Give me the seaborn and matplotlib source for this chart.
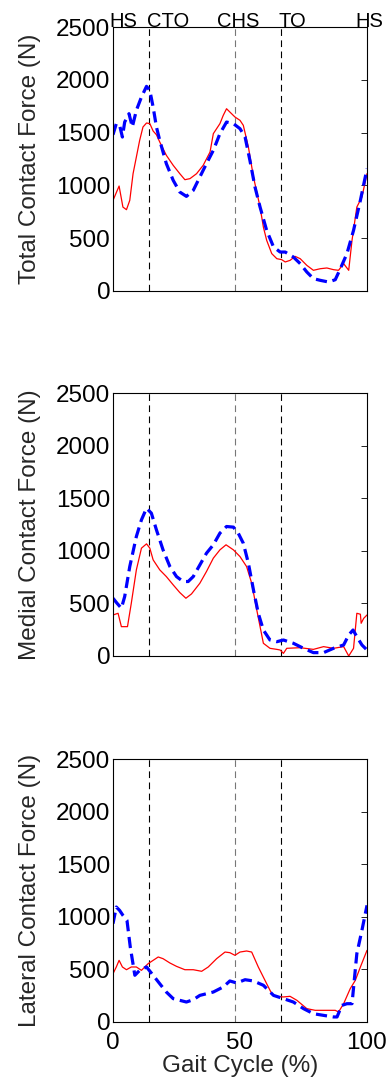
import numpy as np
import pandas as pd
import matplotlib
matplotlib.use("Agg")
import matplotlib.pyplot as plt
import seaborn as sns

# ---------------- data ----------------
tot_red_x = [0, 2.4, 3.9, 5.3, 6.6, 7.9, 9.2, 10.5, 11.8, 13.2, 14.5, 15.8, 17.1, 18.4, 21, 23.7, 26.3, 28.3,
             30.3, 32.9, 35.5, 38.2, 39.5, 42.1, 43.4, 44.7, 46, 48, 50, 51.3, 53.3, 55.3, 57.9, 59.2, 60.5,
             62.5, 64.5, 66.4, 67.8, 69.7, 71.7, 73.7, 76.3, 78.9, 81.6, 84.2, 86.8, 88.8, 90.8, 92.8, 94.1,
             96, 98, 100]
tot_red_y = [858, 994, 795, 770, 858, 1111, 1269, 1427, 1553, 1591, 1585, 1515, 1480, 1411, 1285, 1190, 1111, 1054,
             1064, 1111, 1190, 1316, 1490, 1585, 1663, 1726, 1695, 1648, 1616, 1569, 1364, 1080, 795, 606, 480,
             354, 306, 297, 275, 290, 328, 306, 243, 196, 211, 218, 202, 196, 259, 196, 480,
             795, 890, 1111]
tot_blue_x = [0, 1.3, 2.6, 3.7, 4.6, 6.3, 7.6, 9.2, 11.2, 13.2, 14.5, 15.8, 17.1, 18.4, 21, 23.7, 26.3, 28.9,
              31.6, 34.2, 36.8, 39.5, 42.1, 44.7, 47.4, 50, 52, 53.9, 55.9, 57.9, 60.5, 63.2, 65.8, 67.8, 71,
              73.7, 76.3, 78.9, 81.6, 84.9, 87.5, 89.5, 92.1, 94.7, 97.4, 100]
tot_blue_y = [1480, 1585, 1569, 1458, 1600, 1679, 1553, 1711, 1837, 1938, 1900, 1742, 1553, 1427, 1206, 1048, 937, 896,
              953, 1080, 1206, 1332, 1490, 1600, 1585, 1537, 1458, 1237, 985, 795, 574, 417, 369, 369, 322,
              259, 180, 117, 101, 85, 107, 211, 354, 574, 859, 1158]

med_red_x = [0, 2, 3.3, 5.7, 7.2, 9.2, 11.2, 13.2, 14.5, 15.8, 18.4, 21, 23.7, 26.3, 28.7, 30.9, 34.2, 36.8,
             39.5, 42.1, 44.5, 47.4, 50, 52.6, 54.6, 56.6, 59.2, 61.8, 64.5, 65.8, 67.1, 68.4, 73.7, 78.9,
             82.9, 86.8, 90.8, 92.8, 94.7, 96, 97.4, 97.7, 98.7, 100]
med_red_y = [390, 406, 279, 279, 501, 819, 1025, 1066, 1025, 914, 819, 755, 676, 603, 549, 590, 692, 803,
             930, 1009, 1057, 1009, 945, 850, 692, 438, 121, 73, 63, 57, 25, 73, 79, 63,
             89, 73, 89, 0, 73, 406, 397, 311, 358, 390]
med_blue_x = [0, 1.6, 3.3, 4.6, 6.6, 9.2, 11.2, 13.2, 15.1, 17.1, 19.7, 22.4, 25, 27.6, 29.6, 31.6, 34.2,
              36.8, 39.5, 42.1, 44.7, 47.4, 49.3, 51.3, 53.3, 55.3, 57.2, 59.2, 61.8, 64.5, 67.1, 71, 75,
              78.9, 82.9, 86.8, 90.8, 92.8, 94.5, 96, 98, 100]
med_blue_y = [549, 501, 454, 565, 850, 1136, 1294, 1405, 1358, 1199, 1009, 850, 755, 708, 708, 755, 866,
              977, 1057, 1168, 1231, 1225, 1168, 1072, 882, 628, 406, 247, 152, 136, 152, 121, 73,
              32, 32, 73, 105, 200, 247, 184, 105, 57]

lat_red_x = [0, 1.3, 2.4, 3.7, 5.3, 7.2, 9.2, 11.2, 13.8, 15.8, 17.8, 19.7, 22.4, 25, 28.3, 31.6, 34.9, 37.5,
             40.8, 44.1, 46, 48, 50, 52.6, 54.6, 57.2, 60.5, 62.5, 63.8, 67.1, 69.7, 72.4, 76.3, 79.6, 84.2,
             87.5, 88.8, 90.8, 93.4, 95.4, 97.4, 100]
lat_red_y = [459, 523, 586, 523, 497, 523, 523, 491, 554, 586, 618, 602, 561, 529, 497, 497, 482, 523,
             602, 665, 659, 634, 665, 675, 665, 523, 364, 269, 244, 238, 244, 206, 127, 111, 111,
             111, 95, 174, 317, 396, 523, 681]
lat_blue_x = [0, 1.3, 2.6, 3.9, 5.5, 6.8, 8.6, 10.5, 13.2, 15.8, 18.4, 21, 23.7, 26.3, 28.9, 31.6, 34.2,
              39.5, 43.4, 46, 48.7, 52, 55.3, 59.2, 63.2, 67.1, 71, 75, 78.9, 82.9, 86.8, 88.2, 90.1,
              92.1, 94.1, 96, 98, 100]
lat_blue_y = [935, 1093, 1061, 1014, 966, 713, 444, 491, 523, 444, 364, 285, 222, 206, 190, 212, 253,
              285, 333, 390, 371, 402, 390, 349, 253, 222, 190, 127, 79, 63, 48, 48, 158,
              174, 174, 650, 871, 1109]

event_x = [14, 48, 66]
event_labels = ["HS", "CTO", "CHS", "TO", "HS"]
event_label_x = [-1.5, 13.5, 41, 65, 95.5]
ylabels = ["Total Contact Force (N)", "Medial Contact Force (N)", "Lateral Contact Force (N)"]
yticks = [0, 500, 1000, 1500, 2000, 2500]
xticks = [0, 50, 100]

panels = [
    (tot_red_x, tot_red_y, tot_blue_x, tot_blue_y),
    (med_red_x, med_red_y, med_blue_x, med_blue_y),
    (lat_red_x, lat_red_y, lat_blue_x, lat_blue_y),
]

# ---------------- style ----------------
sns.set_theme(style="white")
plt.rcParams['font.family'] = ['Liberation Sans', 'DejaVu Sans']
plt.rcParams['xtick.direction'] = 'in'
plt.rcParams['ytick.direction'] = 'in'

fig = plt.figure(figsize=(3.89, 10.8), dpi=100)
L, W = 113 / 389, 254 / 389
boxes = [(27, 291), (393, 656), (759, 1022)]
FS = 17.5

for i, ((rx, ry, bx, by), (t, b)) in enumerate(zip(panels, boxes)):
    ax = fig.add_axes([L, 1 - b / 1080, W, (b - t) / 1080])
    dr = pd.DataFrame({"x": rx, "y": ry})
    db = pd.DataFrame({"x": bx, "y": by})
    sns.lineplot(data=dr, x="x", y="y", ax=ax, color="#ff0000", linewidth=0.9, sort=False)
    sns.lineplot(data=db, x="x", y="y", ax=ax, color="#0000ff", linewidth=2.3, sort=False,
                 linestyle=(0, (3.5, 1.8)))
    for j, ex in enumerate(event_x):
        c = "#777777" if j == 1 else "black"
        ax.axvline(ex, color=c, linewidth=0.8, linestyle=(0, (6, 4)), zorder=0)
    ax.set_xlim(0, 100)
    ax.set_ylim(0, 2500)
    ax.set_yticks(yticks)
    ax.set_xticks(xticks)
    ax.tick_params(axis='both', which='both', length=4, width=0.6, colors='black',
                   labelsize=FS, right=True, top=False)
    ax.tick_params(axis='y', pad=2)
    ax.tick_params(axis='x', pad=7)
    if i < 2:
        ax.set_xticklabels([])
        ax.set_xlabel("")
    else:
        ax.set_xlabel("Gait Cycle (%)", fontsize=FS, labelpad=1)
    ax.set_ylabel(ylabels[i], fontsize=FS, labelpad=11)
    for s in ax.spines.values():
        s.set_color("black")
        s.set_linewidth(0.8)
    if i == 0:
        for lab, lx in zip(event_labels, event_label_x):
            ax.text(lx, 2500, lab, ha='left', va='baseline', fontsize=14.5, color='black',
                    clip_on=False)

fig.savefig("out.png", dpi=100)
